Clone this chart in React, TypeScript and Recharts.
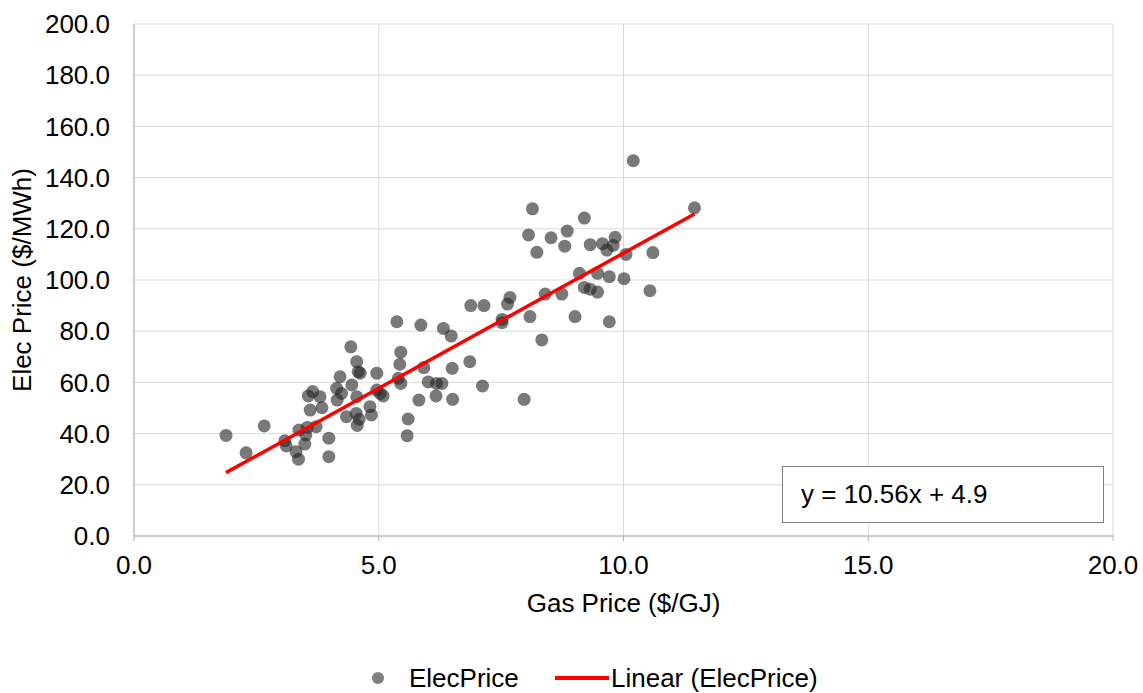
import {
  ScatterChart,
  Scatter,
  XAxis,
  YAxis,
  CartesianGrid,
  Legend,
} from "recharts";

// gas price ($/GJ) vs elec price ($/MWh)
const gasPrice = [
  1.88, 2.29, 2.66, 3.08, 3.11, 3.31, 3.36, 3.37, 3.51, 3.49, 3.54, 3.72, 3.98, 3.98,
  3.6, 3.84, 3.56, 3.65, 3.8, 4.14, 4.21, 4.15, 4.24, 4.34, 4.43, 4.55, 4.58, 4.62,
  4.45, 4.55, 4.54, 4.6, 4.56, 4.82, 4.85, 4.96, 4.96, 5.03, 5.09, 5.45, 5.43, 5.4,
  5.45, 5.37, 5.86, 6.32, 6.48, 5.92, 6.5, 6.01, 6.18, 6.29, 6.17, 6.51, 5.82, 5.6,
  5.58, 6.88, 7.15, 7.68, 7.63, 7.52, 7.52, 8.09, 8.33, 8.4, 8.74, 9.01, 6.86, 7.12,
  7.97, 10.2, 11.45, 8.14, 9.2, 8.06, 8.52, 8.85, 8.8, 8.23, 9.32, 9.57, 9.83, 9.79,
  9.66, 10.05, 10.6, 9.1, 9.47, 9.71, 10.01, 10.54, 9.2, 9.32, 9.47, 9.71,
];
const elecPrice = [
  39.3, 32.5, 43.0, 37.2, 35.2, 32.9, 30.0, 41.4, 39.5, 35.9, 42.4, 42.7, 38.2, 31.0,
  49.2, 50.1, 54.7, 56.4, 54.4, 57.7, 62.2, 53.1, 55.7, 46.6, 73.9, 68.1, 64.2, 63.6,
  59.0, 54.4, 47.9, 45.6, 43.2, 50.5, 47.3, 63.6, 57.0, 55.7, 54.7, 71.8, 67.1, 61.6,
  59.6, 83.7, 82.4, 81.1, 78.1, 65.8, 65.5, 60.2, 59.6, 59.6, 54.7, 53.4, 53.1, 45.7,
  39.2, 90.0, 90.0, 93.2, 90.6, 84.6, 83.3, 85.7, 76.6, 94.5, 94.5, 85.7, 68.1, 58.6,
  53.4, 146.6, 128.2, 127.8, 124.2, 117.6, 116.5, 119.1, 113.2, 110.8, 113.8, 114.2, 116.7, 113.5,
  111.7, 110.0, 110.7, 102.6, 102.6, 101.3, 100.5, 95.8, 97.1, 96.4, 95.3, 83.7,
];

const xTicks = [0, 5, 10, 15, 20];
const yTicks = [0, 20, 40, 60, 80, 100, 120, 140, 160, 180, 200];

// linear trendline as shown in the chart label
const trendSlope = 10.56;
const trendIntercept = 4.9;

const points = gasPrice.map((x, i) => ({ x, y: elecPrice[i] }));
const xMin = Math.min(...gasPrice);
const xMax = Math.max(...gasPrice);
const trend = [xMin, xMax].map((x) => ({ x, y: trendSlope * x + trendIntercept }));

const font = "'Liberation Sans', Arial, sans-serif";
const fontSize = 26;
const axisColor = "#b8ae9f";

const LegendContent = () => (
  <div style={{ position: "relative", height: 30, width: 1143, fontFamily: font, fontSize, color: "#000" }}>
    <span style={{ position: "absolute", left: 372, top: 9, width: 12, height: 12, borderRadius: 6, background: "#7f7f7f" }} />
    <span style={{ position: "absolute", left: 409, top: 0, lineHeight: "30px" }}>ElecPrice</span>
    <span style={{ position: "absolute", left: 555, top: 13, width: 54, height: 3.5, background: "#ff0000" }} />
    <span style={{ position: "absolute", left: 611, top: 0, lineHeight: "30px" }}>Linear (ElecPrice)</span>
  </div>
);

const App = () => {
  return (
    <div style={{ position: "relative", width: 1143, height: 693, background: "#fff", fontFamily: font }}>
      <style>{`body{margin:0}`}</style>
      <ScatterChart width={1143} height={693} margin={{ top: 24, right: 30, bottom: 0, left: 0 }}>
        <CartesianGrid stroke="#d9d9d9" strokeWidth={1} />
        <XAxis
          type="number"
          dataKey="x"
          domain={[0, 20]}
          ticks={xTicks}
          tickFormatter={(v: number) => v.toFixed(1)}
          height={127}
          stroke={axisColor}
          tickSize={5}
          tickMargin={15}
          tick={{ fill: "#000", fontSize, fontFamily: font }}
          label={{
            value: "Gas Price ($/GJ)",
            position: "insideTop",
            offset: 58,
            fill: "#000",
            fontSize,
            fontFamily: font,
          }}
        />
        <YAxis
          type="number"
          dataKey="y"
          domain={[0, 200]}
          ticks={yTicks}
          tickFormatter={(v: number) => v.toFixed(1)}
          width={134}
          stroke={axisColor}
          tickLine={false}
          tickSize={0}
          tickMargin={24}
          tick={{ fill: "#000", fontSize, fontFamily: font }}
          label={{
            value: "Elec Price ($/MWh)",
            angle: -90,
            position: "center",
            dx: -45,
            fill: "#000",
            fontSize,
            fontFamily: font,
          }}
        />
        <Legend verticalAlign="bottom" content={LegendContent} wrapperStyle={{ height: 30 }} />
        <Scatter
          name="ElecPrice"
          data={points}
          isAnimationActive={false}
          shape={(p: any) => <circle cx={p.cx} cy={p.cy} r={6.5} fill="#262626" fillOpacity={0.62} />}
        />
        <Scatter
          name="Linear (ElecPrice)"
          data={trend}
          isAnimationActive={false}
          line={{ stroke: "#ff0000", strokeWidth: 3.5 }}
          lineType="joint"
          shape={() => <g />}
        />
      </ScatterChart>
      <div
        style={{
          position: "absolute",
          left: 782,
          top: 466,
          width: 322,
          height: 57,
          boxSizing: "border-box",
          border: "1.5px solid #808080",
          background: "#fff",
          fontSize,
          lineHeight: "54px",
          paddingLeft: 18,
          color: "#000",
        }}
      >
        y = 10.56x + 4.9
      </div>
    </div>
  );
};

export default App;
